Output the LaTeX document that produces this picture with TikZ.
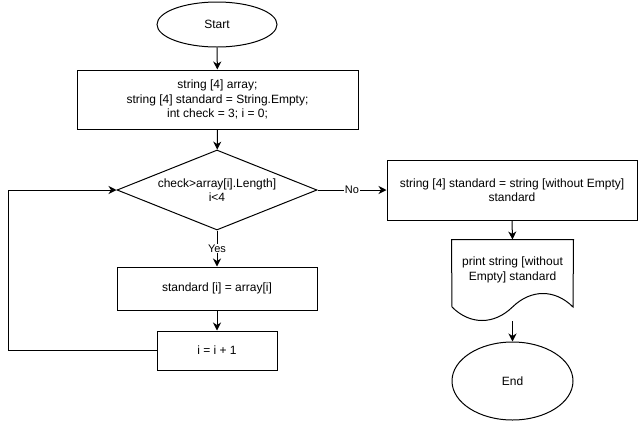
\documentclass[tikz,border=0pt]{standalone}
\usepackage{fontspec}
\setmainfont{Liberation Sans}
\usetikzlibrary{arrows.meta}
\usetikzlibrary{shapes.geometric}

\begin{document}
\begin{tikzpicture}[x=1pt, y=-1pt, line width=1pt,
    box/.style={draw, rectangle, align=center, font=\fontsize{12}{14.4}\selectfont},
    term/.style={draw, ellipse, inner sep=0pt, font=\fontsize{12}{14.4}\selectfont},
    cond/.style={draw, diamond, aspect=2.5, inner sep=0pt, align=center, font=\fontsize{12}{14.4}\selectfont},
    arr/.style={-{Stealth[length=8pt,width=8pt,inset=2.5pt]}},
    lbl/.style={fill=white, inner sep=1pt, font=\fontsize{11}{13}\selectfont}]
    \useasboundingbox (0,0) rectangle (638,421);

    \node[term, minimum width=120, minimum height=45] (start) at (217,24.5) {Start};
    \node[box, minimum width=281, minimum height=59] (init) at (217.5,99.5)
        {string [4] array;\\string [4] standard = String.Empty;\\int check = 3; i = 0;};
    \node[cond, minimum width=200, minimum height=80] (check) at (217,190)
        {check>array[i].Length]\\i<4};
    \node[box, minimum width=200, minimum height=43] (copy) at (217,288.5) {standard [i] = array[i]};
    \node[box, minimum width=120, minimum height=39] (inc) at (217,350.5) {i = i + 1};
    \node[box, minimum width=250, minimum height=60] (result) at (512,190)
        {string [4] standard = string [without Empty]\\standard};
    \node[align=center, minimum width=121, minimum height=60, font=\fontsize{12}{14.4}\selectfont] (print) at (512.5,270)
        {print string [without\\Empty] standard};
    \node[term, minimum width=121, minimum height=78] (end) at (512.5,381) {End};

    \draw (print.north west) -- (print.north east) -- (573,307)
        .. controls (555,289) and (531,289) .. (512.5,307)
        .. controls (494,325) and (470,325) .. (452,307) -- cycle;
    \coordinate (printbot) at (512.5,321);
    \coordinate (loop) at (8,350.5);

    \draw[arr] (start) -- (init);
    \draw[arr] (init) -- (check);
    \draw[arr] (check.south) -- node[lbl, pos=0.5] {Yes} (copy.north);
    \draw[arr] (copy) -- (inc);
    \draw[arr] (inc.west) -- (loop) |- (check.west);
    \draw[arr] (check.east) -- node[lbl] {No} (result.west);
    \draw[arr] (result.south) -- (print.north);
    \draw[arr] (printbot) -- (end.north);
\end{tikzpicture}
\end{document}
